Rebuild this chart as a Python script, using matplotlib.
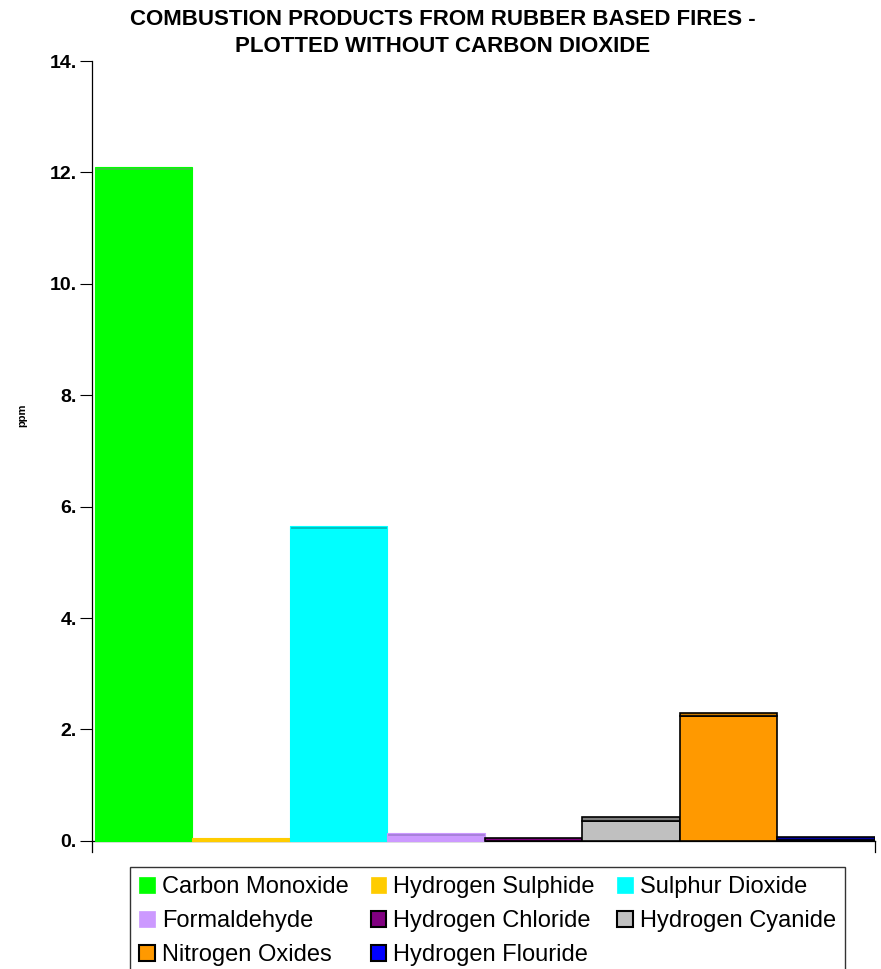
import matplotlib.pyplot as plt
from matplotlib.patches import Patch
import numpy as np

# data
gases = ['Carbon Monoxide', 'Hydrogen Sulphide', 'Sulphur Dioxide', 'Formaldehyde',
         'Hydrogen Chloride', 'Hydrogen Cyanide', 'Nitrogen Oxides', 'Hydrogen Flouride']
ppm = [12.1, 0.05, 5.66, 0.14, 0.06, 0.42, 2.3, 0.07]
colours = ['#00FF00', '#FFCC00', '#00FFFF', '#CC99FF', '#800080', '#C0C0C0', '#FF9900', '#0000FF']
tops = ['#33CC33', '#C89B00', '#00C0C0', '#A680D9', '#5A005A', '#808080', '#C87800', '#0000A0']
outlined = [False, False, False, False, True, True, True, True]
yticks = [0, 2, 4, 6, 8, 10, 12, 14]

plt.rcParams['font.family'] = ['Liberation Sans', 'DejaVu Sans']

fig = plt.figure(figsize=(8.81, 9.69), dpi=100)
ax = fig.add_axes([92/881, 1-852/969, (875-92)/881, (852-61)/969])

x = np.arange(len(gases))
depth = 0.06   # the little 3d top face
for i in x:
    ec = 'black' if outlined[i] else colours[i]
    lw = 1.2 if outlined[i] else 0.8
    front = max(ppm[i] - depth, 0)
    ax.bar(i + 0.5, front, width=1.0, color=colours[i], edgecolor=ec, linewidth=lw, zorder=2)
    ax.bar(i + 0.5, ppm[i] - front, bottom=front, width=1.0, color=tops[i] if front > 0 else colours[i],
           edgecolor=ec, linewidth=lw, zorder=2)

ax.set_xlim(-0.03, 8.0)
ax.set_ylim(-0.2, 14)
ax.set_yticks(yticks)
ax.set_yticklabels([f'{v}.' for v in yticks], fontsize=14, fontweight='bold')
ax.tick_params(axis='y', length=9, width=0.8, pad=2)
ax.set_xticks([])
ax.spines['top'].set_visible(False)
ax.spines['bottom'].set_position(('data', 0))
ax.spines['left'].set_bounds(-0.2, 14)
ax.spines['right'].set_bounds(-0.2, 0)
for s in ['left', 'bottom', 'right']:
    ax.spines[s].set_linewidth(0.9)
    ax.spines[s].set_zorder(1)

fig.text(22/881, 1-415/969, 'ppm', rotation=90, ha='center', va='center',
         fontsize=8, fontweight='bold')

fig.text(443/881, 1-9/969, 'COMBUSTION PRODUCTS FROM RUBBER BASED FIRES -\nPLOTTED WITHOUT CARBON DIOXIDE',
         ha='center', va='top', fontsize=16, fontweight='bold', linespacing=1.4)

handles = [Patch(facecolor=colours[i], edgecolor='black' if outlined[i] else colours[i],
                 linewidth=1.5 if outlined[i] else 0.5, label=gases[i]) for i in x]
order = [0, 3, 6, 1, 4, 7, 2, 5]
leg = fig.legend([handles[i] for i in order], [gases[i] for i in order], ncol=3,
                 loc='upper left', bbox_to_anchor=(130/881, 1-867/969),
                 fontsize=17, frameon=True, fancybox=False, edgecolor='black',
                 handlelength=0.65, handleheight=0.65, handletextpad=0.3,
                 columnspacing=0.95, labelspacing=0.5, borderpad=0.4, borderaxespad=0)
leg.get_frame().set_linewidth(1.0)

fig.savefig('out.png', dpi=100)
